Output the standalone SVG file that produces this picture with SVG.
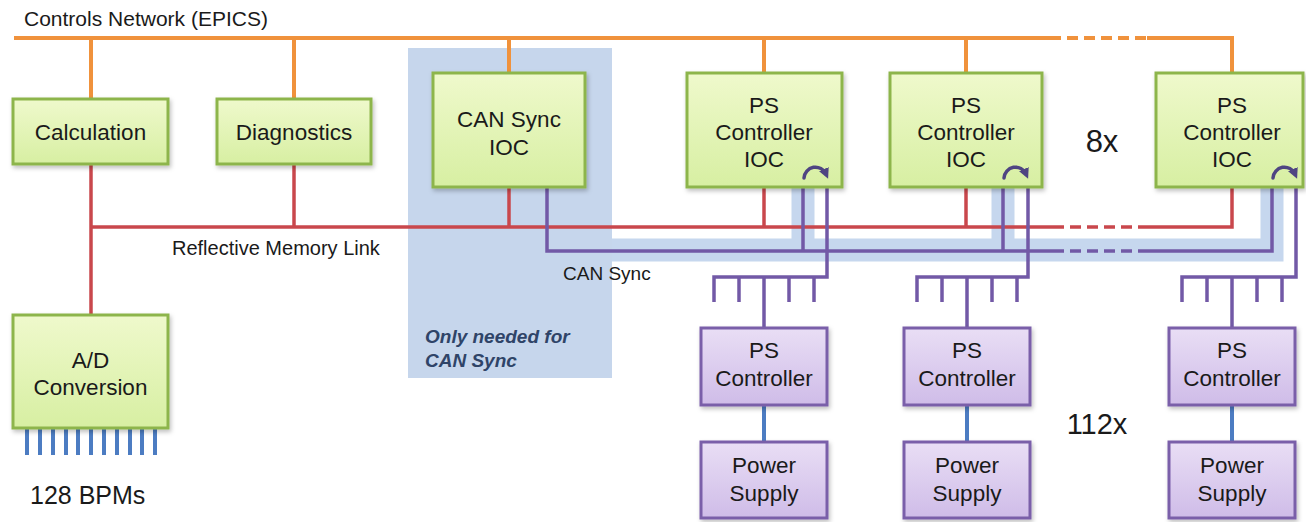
<svg xmlns="http://www.w3.org/2000/svg" width="1306" height="522" viewBox="0 0 1306 522">
<defs>
<linearGradient id="gg" x1="0" y1="0" x2="0" y2="1"><stop offset="0" stop-color="#eff9cc"/><stop offset="1" stop-color="#d7efa2"/></linearGradient>
<linearGradient id="pg" x1="0" y1="0" x2="0" y2="1"><stop offset="0" stop-color="#e9def5"/><stop offset="1" stop-color="#cfbce8"/></linearGradient>
<filter id="sh" x="-10%" y="-10%" width="125%" height="130%"><feDropShadow dx="1.5" dy="2.5" stdDeviation="2" flood-color="#000" flood-opacity="0.25"/></filter>
<marker id="ah" viewBox="0 0 10 10" refX="5" refY="5" markerWidth="3" markerHeight="3" orient="auto"><path d="M0,0 L10,5 L0,10 z" fill="#4f4582"/></marker>
<style>
.t{font-family:"Liberation Sans",Arial,sans-serif;fill:#1a1a1a}
.bt{font-size:22.5px;text-anchor:middle}
.gbox{fill:url(#gg);stroke:#8db54b;stroke-width:3;filter:url(#sh)}
.pbox{fill:url(#pg);stroke:#7a5fa9;stroke-width:3;filter:url(#sh)}
.or{stroke:#f0923c;stroke-width:4;fill:none}
.rd{stroke:#c9474c;stroke-width:3.5;fill:none}
.pu{stroke:#7259a6;stroke-width:3.5;fill:none}
.bl{stroke:#4c7cc2;stroke-width:4;fill:none}
.band{stroke:#c6d7ee;stroke-width:23;fill:none;stroke-linejoin:miter}
.dash{stroke-dasharray:11 6}
.arc{stroke:#4f4582;stroke-width:3.5;fill:none;stroke-linecap:round}
</style>
</defs>
<rect width="1306" height="522" fill="#fff"/>

<g id="can-region">
<rect x="408" y="48" width="204" height="330" fill="#c6d6ec"/>
<text class="t" x="425" y="343" font-size="19" font-weight="bold" font-style="italic" style="fill:#2f4468">Only needed for</text>
<text class="t" x="425" y="367" font-size="19" font-weight="bold" font-style="italic" style="fill:#2f4468">CAN Sync</text>
</g>

<g id="connectors">
<polyline class="band" points="612,250 1272,250 1272,187"/>
<line class="band" x1="803" y1="187" x2="803" y2="250"/>
<line class="band" x1="1003" y1="187" x2="1003" y2="250"/>
<line class="or" x1="14" y1="38" x2="1050" y2="38"/>
<line class="or dash" x1="1050" y1="38" x2="1147" y2="38"/>
<polyline class="or" points="1147,38 1232,38 1232,73"/>
<line class="or" x1="91" y1="38" x2="91" y2="99"/>
<line class="or" x1="294" y1="38" x2="294" y2="99"/>
<line class="or" x1="509" y1="38" x2="509" y2="73"/>
<line class="or" x1="764" y1="38" x2="764" y2="73"/>
<line class="or" x1="966" y1="38" x2="966" y2="73"/>
<line class="rd" x1="91" y1="164" x2="91" y2="315"/>
<line class="rd" x1="91" y1="227" x2="1053" y2="227"/>
<line class="rd dash" x1="1053" y1="227" x2="1140" y2="227"/>
<polyline class="rd" points="1140,227 1232,227 1232,187"/>
<line class="rd" x1="294" y1="164" x2="294" y2="227"/>
<line class="rd" x1="509" y1="187" x2="509" y2="227"/>
<line class="rd" x1="764" y1="187" x2="764" y2="227"/>
<line class="rd" x1="966" y1="187" x2="966" y2="227"/>
<polyline class="pu" points="547,187 547,251 1053,251"/>
<line class="pu dash" x1="1053" y1="251" x2="1140" y2="251"/>
<polyline class="pu" points="1140,251 1272,251 1272,187"/>
<line class="pu" x1="803" y1="187" x2="803" y2="251"/>
<line class="pu" x1="1003" y1="187" x2="1003" y2="251"/>
<polyline class="pu" points="827,187 827,277 714,277 714,302"/>
<line class="pu" x1="739" y1="277" x2="739" y2="302"/>
<line class="pu" x1="764" y1="277" x2="764" y2="328"/>
<line class="pu" x1="789" y1="277" x2="789" y2="302"/>
<line class="pu" x1="814" y1="277" x2="814" y2="302"/>
<polyline class="pu" points="1028,187 1028,277 917,277 917,302"/>
<line class="pu" x1="942" y1="277" x2="942" y2="302"/>
<line class="pu" x1="967" y1="277" x2="967" y2="328"/>
<line class="pu" x1="992" y1="277" x2="992" y2="302"/>
<line class="pu" x1="1017" y1="277" x2="1017" y2="302"/>
<polyline class="pu" points="1296,187 1296,277 1182,277 1182,302"/>
<line class="pu" x1="1207" y1="277" x2="1207" y2="302"/>
<line class="pu" x1="1232" y1="277" x2="1232" y2="328"/>
<line class="pu" x1="1257" y1="277" x2="1257" y2="302"/>
<line class="pu" x1="1282" y1="277" x2="1282" y2="302"/>
<line class="bl" x1="764" y1="405" x2="764" y2="442"/>
<line class="bl" x1="967" y1="405" x2="967" y2="442"/>
<line class="bl" x1="1232" y1="405" x2="1232" y2="442"/>
<g class="bl">
<line x1="27" y1="428" x2="27" y2="455"/><line x1="40" y1="428" x2="40" y2="455"/><line x1="53" y1="428" x2="53" y2="455"/><line x1="66" y1="428" x2="66" y2="455"/><line x1="78" y1="428" x2="78" y2="455"/><line x1="91" y1="428" x2="91" y2="455"/><line x1="104" y1="428" x2="104" y2="455"/><line x1="117" y1="428" x2="117" y2="455"/><line x1="130" y1="428" x2="130" y2="455"/><line x1="142" y1="428" x2="142" y2="455"/><line x1="155" y1="428" x2="155" y2="455"/>
</g>
</g>

<g id="calculation"><rect class="gbox" x="13" y="99" width="155" height="65"/><text class="t bt" x="90.5" y="140">Calculation</text></g>
<g id="diagnostics"><rect class="gbox" x="217" y="99" width="154" height="65"/><text class="t bt" x="294" y="140">Diagnostics</text></g>
<g id="can-sync-ioc"><rect class="gbox" x="433" y="73" width="152" height="114"/><text class="t bt" x="509" y="127">CAN Sync</text><text class="t bt" x="509" y="155">IOC</text></g>
<g id="ps-ioc-1"><rect class="gbox" x="687" y="73" width="155" height="114"/><text class="t bt" x="764" y="113">PS</text><text class="t bt" x="764" y="140">Controller</text><text class="t bt" x="764" y="167">IOC</text><path class="arc" d="M804,178 A11.5,11.5 0 0 1 826,174" marker-end="url(#ah)"/></g>
<g id="ps-ioc-2"><rect class="gbox" x="890" y="73" width="152" height="114"/><text class="t bt" x="966" y="113">PS</text><text class="t bt" x="966" y="140">Controller</text><text class="t bt" x="966" y="167">IOC</text><path class="arc" d="M1004,178 A11.5,11.5 0 0 1 1026,174" marker-end="url(#ah)"/></g>
<g id="ps-ioc-3"><rect class="gbox" x="1156" y="73" width="147" height="114"/><text class="t bt" x="1232" y="113">PS</text><text class="t bt" x="1232" y="140">Controller</text><text class="t bt" x="1232" y="167">IOC</text><path class="arc" d="M1273,178 A11.5,11.5 0 0 1 1295,174" marker-end="url(#ah)"/></g>
<g id="ad-conversion"><rect class="gbox" x="13" y="315" width="155" height="113"/><text class="t bt" x="90.5" y="368">A/D</text><text class="t bt" x="90.5" y="395">Conversion</text></g>

<g id="ps-ctrl-1"><rect class="pbox" x="701" y="328" width="126" height="77"/><text class="t bt" x="764" y="358">PS</text><text class="t bt" x="764" y="386">Controller</text></g>
<g id="ps-ctrl-2"><rect class="pbox" x="904" y="328" width="126" height="77"/><text class="t bt" x="967" y="358">PS</text><text class="t bt" x="967" y="386">Controller</text></g>
<g id="ps-ctrl-3"><rect class="pbox" x="1169" y="328" width="126" height="77"/><text class="t bt" x="1232" y="358">PS</text><text class="t bt" x="1232" y="386">Controller</text></g>
<g id="power-supply-1"><rect class="pbox" x="701" y="442" width="126" height="76"/><text class="t bt" x="764" y="473">Power</text><text class="t bt" x="764" y="501">Supply</text></g>
<g id="power-supply-2"><rect class="pbox" x="904" y="442" width="126" height="76"/><text class="t bt" x="967" y="473">Power</text><text class="t bt" x="967" y="501">Supply</text></g>
<g id="power-supply-3"><rect class="pbox" x="1169" y="442" width="126" height="76"/><text class="t bt" x="1232" y="473">Power</text><text class="t bt" x="1232" y="501">Supply</text></g>

<g id="labels">
<text class="t" x="24" y="26" font-size="21">Controls Network (EPICS)</text>
<text class="t" x="172" y="255" font-size="20">Reflective Memory Link</text>
<text class="t" x="563" y="280" font-size="19">CAN Sync</text>
<text class="t" x="1102" y="152" font-size="31" text-anchor="middle">8x</text>
<text class="t" x="1097" y="434" font-size="29" text-anchor="middle">112x</text>
<text class="t" x="30" y="504" font-size="25">128 BPMs</text>
</g>
</svg>
